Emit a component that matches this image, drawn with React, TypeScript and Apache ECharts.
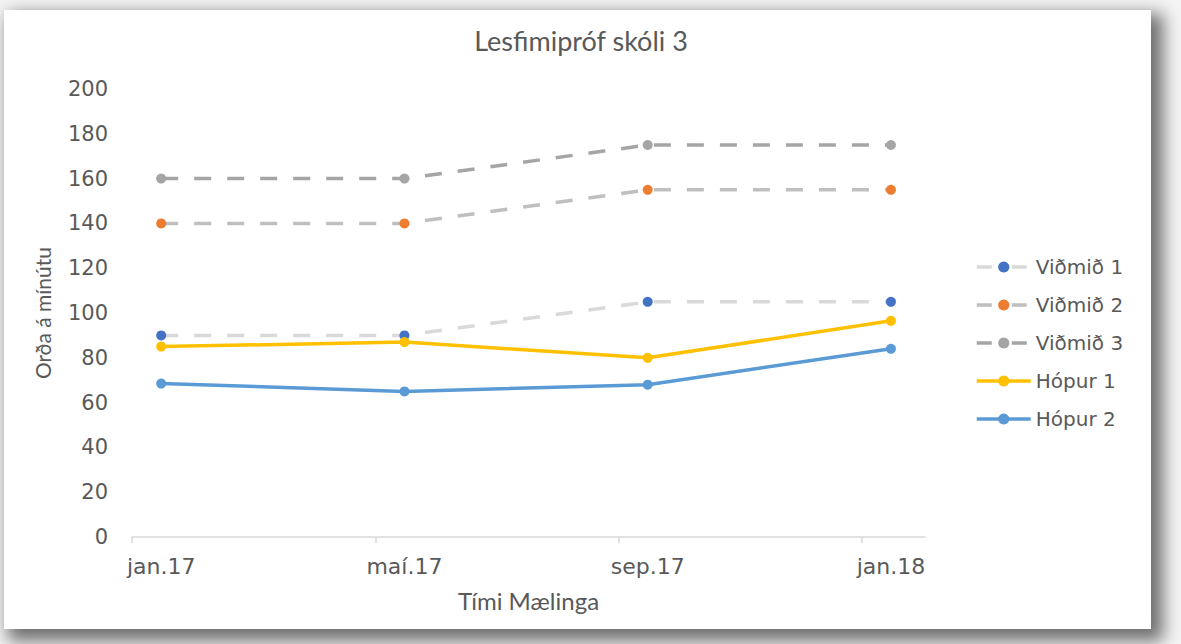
import React, { useEffect, useRef } from "react";
import * as echarts from "echarts";

const categories = ["jan.17", "maí.17", "sep.17", "jan.18"];
const vidmid1 = [90, 90, 105, 105];
const vidmid2 = [140, 140, 155, 155];
const vidmid3 = [160, 160, 175, 175];
const hopur1 = [85, 87, 80, 96.5];
const hopur2 = [68.5, 65, 68, 84];
const yTicks = [0, 20, 40, 60, 80, 100, 120, 140, 160, 180, 200];

const TEXT = "#595959";
const LABEL_FONT = "DejaVu Sans";
const TITLE_FONT = "Lato";

function toPoints(vals: number[]) {
  return vals.map((v, i) => [i, v]);
}

export default function App() {
  const ref = useRef<HTMLDivElement>(null);
  useEffect(() => {
    if (!ref.current) return;
    const chart = echarts.init(ref.current, null, { renderer: "svg" });
    const dash = [17, 16];
    const defs = [
      { name: "Viðmið 1", vals: vidmid1, line: "#d9d9d9", dot: "#4472c4", dashed: true },
      { name: "Viðmið 2", vals: vidmid2, line: "#bfbfbf", dot: "#ed7d31", dashed: true },
      { name: "Viðmið 3", vals: vidmid3, line: "#a5a5a5", dot: "#a5a5a5", dashed: true },
      { name: "Hópur 1", vals: hopur1, line: "#ffc000", dot: "#ffc000", dashed: false },
      { name: "Hópur 2", vals: hopur2, line: "#5b9bd5", dot: "#5b9bd5", dashed: false },
    ];
    chart.setOption({
      animation: false,
      backgroundColor: "transparent",
      title: {
        text: "Lesfimipróf skóli 3",
        left: 576,
        top: 22,
        textAlign: "center",
        textStyle: {
          fontFamily: TITLE_FONT,
          fontSize: 27,
          fontWeight: "normal",
          color: TEXT,
        },
      },
      legend: {
        orient: "vertical",
        left: 970,
        top: 252,
        itemWidth: 54,
        itemHeight: 14,
        itemGap: 18,
        textStyle: {
          fontFamily: LABEL_FONT,
          fontSize: 20,
          color: TEXT,
          lineHeight: 20,
        },
        data: defs.map((d) => ({
          name: d.name,
          lineStyle: {
            color: d.line,
            width: 3.5,
            type: d.dashed ? [15, 20] : "solid",
            cap: "butt",
          },
          itemStyle: { color: d.dot, borderWidth: 0 },
        })),
      },
      grid: {
        left: 132,
        right: 1181 - 925,
        top: 89,
        bottom: 644 - 537,
        containLabel: false,
        outerBoundsMode: "none",
      },
      xAxis: {
        type: "value",
        min: -0.12,
        max: 3.14,
        splitLine: { show: false },
        axisLine: { show: true, lineStyle: { color: "#d9d9d9", width: 1.5 } },
        axisTick: {
          show: true,
          length: 6,
          lineStyle: { color: "#d9d9d9", width: 1.5 },
          customValues: categories.map((_, i) => i - 0.12),
        },
        axisLabel: {
          customValues: categories.map((_, i) => i),
          formatter: (v: number) => categories[Math.round(v)] ?? "",
          fontFamily: LABEL_FONT,
          fontSize: 22,
          color: TEXT,
          margin: 18,
        },
        name: "Tími Mælinga",
        nameLocation: "middle",
        nameGap: 51,
        nameTextStyle: { fontFamily: TITLE_FONT, fontSize: 24, color: TEXT },
      },
      yAxis: {
        type: "value",
        min: 0,
        max: 200,
        interval: 20,
        splitLine: { show: false },
        axisLine: { show: false },
        axisTick: { show: false },
        axisLabel: {
          fontFamily: LABEL_FONT,
          fontSize: 21,
          color: TEXT,
          margin: 24,
          formatter: (v: number) => (yTicks.includes(v) ? String(v) : ""),
        },
        name: "Orða á mínútu",
        nameLocation: "middle",
        nameGap: 79,
        nameRotate: 90,
        nameTextStyle: { fontFamily: TITLE_FONT, fontSize: 21, color: TEXT },
      },
      series: defs.map((d) => ({
        name: d.name,
        type: "line",
        data: toPoints(d.vals),
        symbol: "circle",
        symbolSize: 10,
        showSymbol: true,
        lineStyle: {
          color: d.line,
          width: 3.5,
          type: d.dashed ? dash : "solid",
          cap: "butt",
        },
        itemStyle: { color: d.dot, borderWidth: 0 },
        emphasis: { disabled: true },
        z: d.dashed ? 2 : 3,
      })),
    });
    return () => chart.dispose();
  }, []);

  return (
    <div
      style={{
        position: "fixed",
        left: 0,
        top: 0,
        width: 1181,
        height: 644,
        background: "#f4f4f4",
        overflow: "hidden",
      }}
    >
      <div
        style={{
          position: "absolute",
          left: 4,
          top: 10,
          width: 1147,
          height: 619,
          background: "#ffffff",
          boxShadow: "8px 8px 16px 4px rgba(0,0,0,0.55)",
        }}
      />
      <div
        ref={ref}
        style={{ position: "absolute", left: 0, top: 0, width: 1181, height: 644 }}
      />
    </div>
  );
}
